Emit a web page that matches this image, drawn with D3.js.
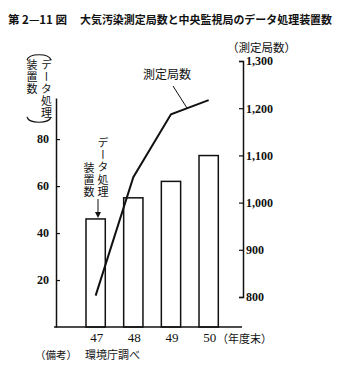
<!DOCTYPE html>
<html>
<head>
<meta charset="utf-8">
<script src="https://cdn.jsdelivr.net/npm/d3@7"></script>
<style>
  html, body { margin: 0; padding: 0; background: #fff; }
  svg { display: block; }
  .jp { font-family: "Noto Sans CJK JP", sans-serif; fill: #111; }
  .num { font-family: "Liberation Serif", "DejaVu Serif", serif; fill: #111; }
  .vert { writing-mode: vertical-rl; text-orientation: upright; }
</style>
</head>
<body>
<svg id="chart" width="341" height="374"></svg>
<script>
// Fiscal years (Showa 47-50, end of year)
const years = ["47", "48", "49", "50"];
// Data-processing units at the central monitoring stations (left axis)
const devices = [46, 55, 62, 73];
// Number of air-pollution measuring stations (right axis)
const stations = [803, 1054, 1187, 1217];
const leftTicks = [20, 40, 60, 80];
const rightTicks = [800, 900, 1000, 1100, 1200, 1300];

const svg = d3.select("#chart");
const ink = "#111";

const leftX = 56, rightX = 243, baseY = 327;

const x = d3.scaleBand().domain(years).range([86, 218.3]).paddingInner(0.488).paddingOuter(0);
const yL = d3.scaleLinear().domain([0, 97.5]).range([baseY, 98]);
const yR = d3.scaleLinear().domain([800, 1300]).range([297, 61]);

// Title
svg.append("text").attr("class", "jp").attr("x", 8).attr("y", 24)
  .attr("font-size", 11.5).attr("font-weight", "bold")
  .text("第 2—11 図");
svg.append("text").attr("class", "jp").attr("x", 80).attr("y", 24)
  .attr("font-size", 11).attr("font-weight", "bold")
  .attr("textLength", 252).attr("lengthAdjust", "spacingAndGlyphs")
  .text("大気汚染測定局数と中央監視局のデータ処理装置数");

// Bars (left axis)
svg.append("g").selectAll("rect").data(devices).join("rect")
  .attr("x", (d, i) => x(years[i]))
  .attr("y", d => yL(d))
  .attr("width", x.bandwidth())
  .attr("height", d => baseY - yL(d))
  .attr("fill", "#fff").attr("stroke", ink).attr("stroke-width", 1.5);

// Baseline
svg.append("line").attr("x1", leftX - 2).attr("x2", rightX - 1)
  .attr("y1", baseY).attr("y2", baseY)
  .attr("stroke", ink).attr("stroke-width", 1.5);

// Left axis
const gL = svg.append("g").attr("transform", `translate(${leftX},0)`)
  .call(d3.axisLeft(yL).tickValues(leftTicks).tickSize(-4).tickSizeOuter(0).tickPadding(7));
gL.select(".domain").attr("stroke", ink).attr("stroke-width", 1.5);
gL.selectAll(".tick line").attr("stroke", ink).attr("stroke-width", 1.2);
gL.selectAll(".tick text").attr("class", "num").attr("font-size", 12)
  .attr("font-weight", "bold").attr("fill", ink);

// Right axis
const gR = svg.append("g").attr("transform", `translate(${rightX},0)`)
  .call(d3.axisRight(yR).tickValues(rightTicks).tickFormat(d3.format(","))
    .tickSize(-4).tickSizeOuter(-4).tickPadding(3));
gR.select(".domain").attr("stroke", ink).attr("stroke-width", 1.5);
gR.selectAll(".tick line").attr("stroke", ink).attr("stroke-width", 1.2);
gR.selectAll(".tick text").attr("class", "num").attr("font-size", 12)
  .attr("font-weight", "bold").attr("fill", ink);

// Year labels
const gX = svg.append("g").attr("transform", `translate(0,${baseY})`)
  .call(d3.axisBottom(x).tickSize(0).tickPadding(6));
gX.select(".domain").remove();
gX.selectAll(".tick text").attr("class", "num").attr("font-size", 13)
  .attr("fill", ink).attr("dx", 1);
svg.append("text").attr("class", "jp").attr("x", 217).attr("y", 343)
  .attr("font-size", 11).text("（年度末）");

// Station count line (right axis)
const line = d3.line().x((d, i) => x(years[i]) + x.bandwidth() / 2).y(d => yR(d));
svg.append("path").datum(stations).attr("d", line)
  .attr("fill", "none").attr("stroke", ink).attr("stroke-width", 2)
  .attr("stroke-linejoin", "miter");

// Line label with leader
svg.append("text").attr("class", "jp").attr("x", 143).attr("y", 79)
  .attr("font-size", 12).text("測定局数");
svg.append("line").attr("x1", 173).attr("y1", 86).attr("x2", 187).attr("y2", 108)
  .attr("stroke", ink).attr("stroke-width", 1);

// Vertical text column (top-to-bottom)
function vtext(str, cx, top, size, spacing) {
  svg.append("text").attr("class", "jp vert").attr("font-size", size)
    .attr("letter-spacing", spacing)
    .attr("x", cx).attr("y", top).text(str);
}

// Bar annotation
vtext("データ処理", 103, 137, 11, 1.3);
vtext("装置数", 89, 162, 11, 1.3);
svg.append("line").attr("x1", 98).attr("y1", 199).attr("x2", 98).attr("y2", 213)
  .attr("stroke", ink).attr("stroke-width", 1);
svg.append("path").attr("d", "M95,212 L101,212 L98,218 Z").attr("fill", ink);

// Left axis title in vertical brackets
vtext("データ処理", 46.5, 59, 11, 1);
vtext("装置数", 32, 59, 11, 1.3);
svg.append("path").attr("d", "M27,60 C29,53 49,53 51,60")
  .attr("fill", "none").attr("stroke", ink).attr("stroke-width", 1.2);
svg.append("path").attr("d", "M27,117 C29,124 49,124 51,117")
  .attr("fill", "none").attr("stroke", ink).attr("stroke-width", 1.2);

// Right axis title
svg.append("text").attr("class", "jp").attr("x", 227).attr("y", 52)
  .attr("font-size", 11.5).text("（測定局数）");

// Source note
svg.append("text").attr("class", "jp").attr("x", 35).attr("y", 359)
  .attr("font-size", 10.5).text("（備考）");
svg.append("text").attr("class", "jp").attr("x", 85).attr("y", 359)
  .attr("font-size", 11).text("環境庁調べ");
</script>
</body>
</html>
